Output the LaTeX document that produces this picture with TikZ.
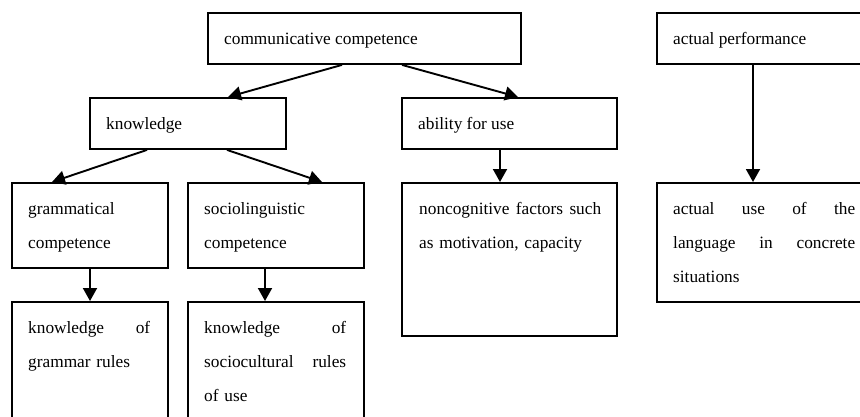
\documentclass[tikz,border=0pt]{standalone}
\usepackage{fontspec}
\setmainfont{Liberation Serif}
\usetikzlibrary{arrows.meta,calc}

\begin{document}
\begin{tikzpicture}[x=1pt,y=-1pt,
  box/.style={draw=black, line width=1.9pt, rectangle, anchor=north west, inner sep=0pt},
  txt/.style={anchor=base west, inner sep=0pt, align=left,
              font=\fontsize{17.3}{34}\selectfont},
  arr/.style={line width=1.9pt, -{Triangle[length=13pt,width=14pt]}}]
  \clip (0,0) rectangle (860,416);
  \useasboundingbox (0,0) rectangle (860,416);

  % boxes
  \node[box, minimum width=313pt, minimum height=51pt]  (cc) at (207,12)  {};
  \node[box, minimum width=215pt, minimum height=51pt]  (ap) at (656,12)  {};
  \node[box, minimum width=196pt, minimum height=51pt]  (kn) at (89,97)   {};
  \node[box, minimum width=215pt, minimum height=51pt]  (au) at (401,97)  {};
  \node[box, minimum width=156pt, minimum height=85pt]  (gc) at (11,182)  {};
  \node[box, minimum width=176pt, minimum height=85pt]  (sc) at (187,182) {};
  \node[box, minimum width=215pt, minimum height=153pt] (nc) at (401,182) {};
  \node[box, minimum width=215pt, minimum height=119pt] (ua) at (656,182) {};
  \node[box, minimum width=156pt, minimum height=130pt] (gr) at (11,301)  {};
  \node[box, minimum width=176pt, minimum height=130pt] (sr) at (187,301) {};

  % texts
  \node[txt] (cct) at (224,44)  {communicative competence};
  \node[txt] (apt) at (673,44)  {actual performance};
  \node[txt] (knt) at (106,129) {knowledge};
  \node[txt] (aut) at (418,129) {ability for use};
  \node[txt, text width=122pt] (gct) at (28,214)  {grammatical\\competence};
  \node[txt, text width=142pt] (sct) at (204,214) {sociolinguistic\\competence};
  \node[txt, text width=182pt] (nct) at (419,214) {noncognitive\hfill factors\hfill such\\as motivation, capacity};
  \node[txt, text width=182pt] (uat) at (673,214) {actual\hfill use\hfill of\hfill the\\language\hfill in\hfill concrete\\situations};
  \node[txt, text width=122pt] (grt) at (28,333)  {knowledge\hfill of\\grammar rules};
  \node[txt, text width=142pt] (srt) at (204,333) {knowledge\hfill of\\sociocultural\hfill rules\\of use};

  % connectors
  \draw[arr] ($(cc.south west)+(135,0)$) -- ($(kn.north west)+(139,0)$);
  \draw[arr] ($(cc.south west)+(195,0)$) -- ($(au.north west)+(117,0)$);
  \draw[arr] ($(kn.south west)+(58,0)$)  -- ($(gc.north west)+(41,0)$);
  \draw[arr] ($(kn.south west)+(138,0)$) -- ($(sc.north west)+(135,0)$);
  \draw[arr] ($(au.south west)+(99,0)$)  -- ($(nc.north west)+(99,0)$);
  \draw[arr] ($(ap.south west)+(97,0)$)  -- ($(ua.north west)+(97,0)$);
  \draw[arr] ($(gc.south west)+(79,0)$)  -- ($(gr.north west)+(79,0)$);
  \draw[arr] ($(sc.south west)+(78,0)$)  -- ($(sr.north west)+(78,0)$);
\end{tikzpicture}
\end{document}
